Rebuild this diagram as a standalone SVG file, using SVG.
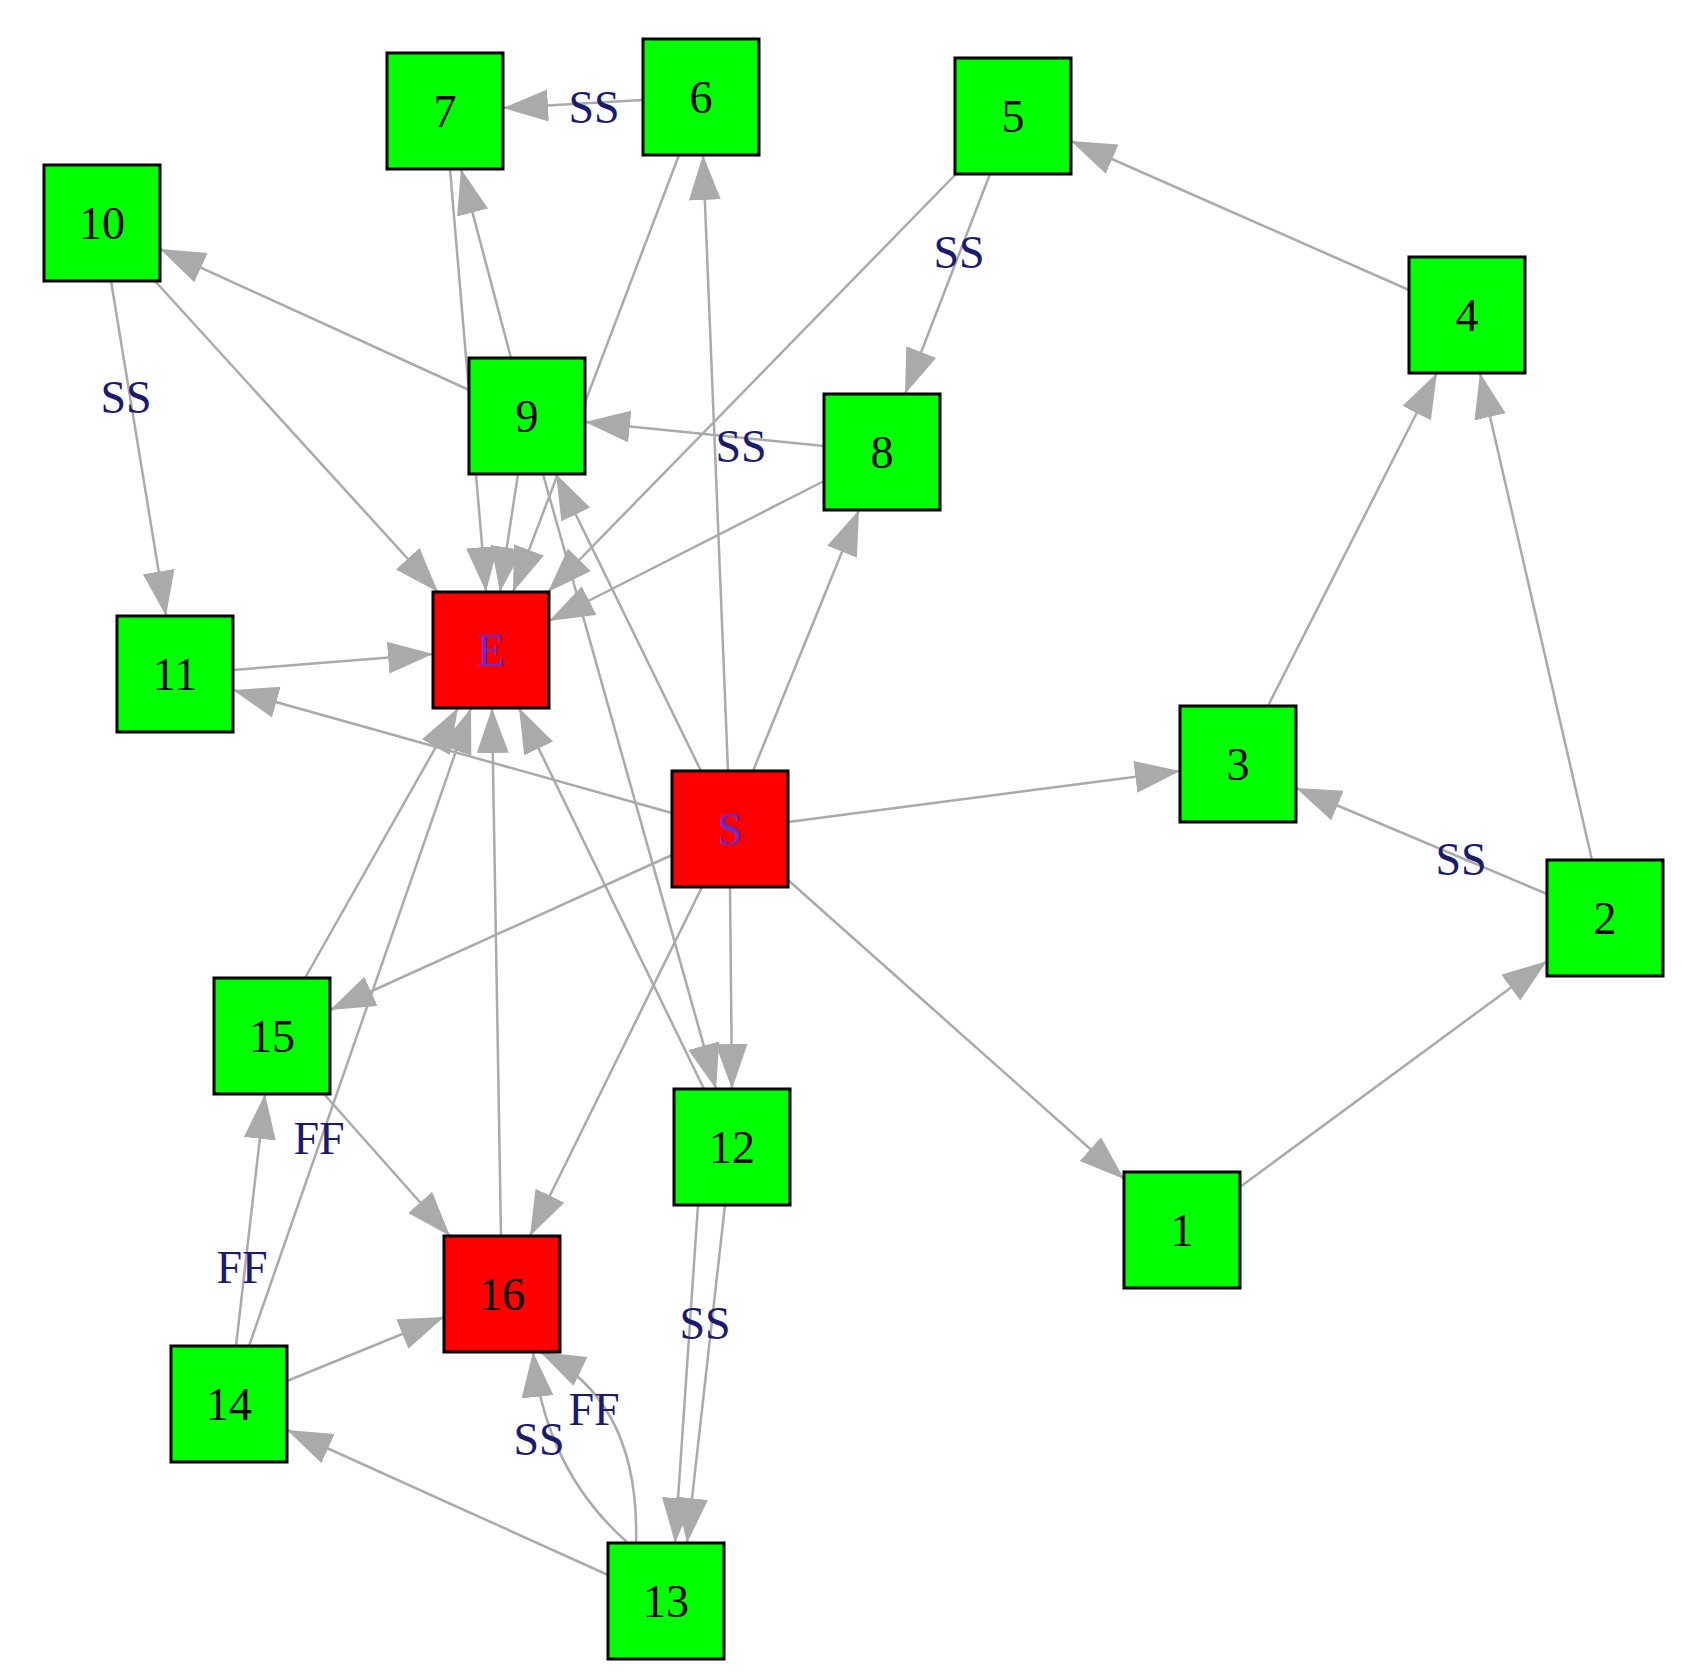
<svg xmlns="http://www.w3.org/2000/svg" width="1682" height="1679" viewBox="0 0 1682 1679">
<style>
.e{stroke:#aaaaaa;stroke-width:2.5;fill:none;marker-end:url(#a)}
.g rect{fill:#00ff00;stroke:#000;stroke-width:3}
.r rect{fill:#ff0000;stroke:#000;stroke-width:3}
.n text{font-family:"Liberation Serif",serif;font-size:46px;text-anchor:middle;dominant-baseline:central;fill:#000}
.r text{fill:#6a2ad0}
.l{font-family:"Liberation Serif",serif;font-size:46px;text-anchor:middle;dominant-baseline:central;fill:#1a1a6e}
</style>
<defs>
<marker id="a" markerUnits="userSpaceOnUse" markerWidth="46" markerHeight="34" refX="45" refY="16" orient="auto">
<path d="M0,0 L45,16 L0,32 z" fill="#aaaaaa"/>
</marker>
</defs>
<rect width="1682" height="1679" fill="#fff"/>
<g id="edges">
<line class="e" x1="643" y1="100" x2="503" y2="108"/>
<line class="e" x1="990" y1="174" x2="905" y2="394"/>
<line class="e" x1="1409" y1="290" x2="1071" y2="141"/>
<line class="e" x1="111" y1="281" x2="166" y2="616"/>
<line class="e" x1="155" y1="281" x2="438" y2="592"/>
<line class="e" x1="469" y1="390" x2="160" y2="249"/>
<line class="e" x1="511" y1="358" x2="461" y2="169"/>
<line class="e" x1="450" y1="169" x2="486" y2="592"/>
<line class="e" x1="679" y1="155" x2="513" y2="592"/>
<line class="e" x1="728" y1="771" x2="703" y2="155"/>
<line class="e" x1="956" y1="174" x2="548" y2="592"/>
<line class="e" x1="824" y1="446" x2="585" y2="422"/>
<line class="e" x1="824" y1="481" x2="549" y2="621"/>
<line class="e" x1="753" y1="771" x2="859" y2="510"/>
<line class="e" x1="518" y1="474" x2="500" y2="592"/>
<line class="e" x1="701" y1="771" x2="556" y2="474"/>
<line class="e" x1="543" y1="474" x2="716" y2="1089"/>
<line class="e" x1="233" y1="670" x2="433" y2="654"/>
<line class="e" x1="672" y1="813" x2="233" y2="690"/>
<line class="e" x1="788" y1="822" x2="1180" y2="771"/>
<line class="e" x1="1268" y1="706" x2="1437" y2="373"/>
<line class="e" x1="1592" y1="860" x2="1480" y2="373"/>
<line class="e" x1="1547" y1="894" x2="1296" y2="788"/>
<line class="e" x1="1240" y1="1187" x2="1547" y2="961"/>
<line class="e" x1="788" y1="880" x2="1124" y2="1179"/>
<line class="e" x1="672" y1="855" x2="330" y2="1010"/>
<line class="e" x1="702" y1="887" x2="530" y2="1236"/>
<line class="e" x1="730" y1="887" x2="732" y2="1089"/>
<line class="e" x1="305" y1="978" x2="458" y2="708"/>
<line class="e" x1="249" y1="1346" x2="471" y2="708"/>
<line class="e" x1="501" y1="1236" x2="492" y2="708"/>
<line class="e" x1="704" y1="1089" x2="519" y2="708"/>
<line class="e" x1="324" y1="1094" x2="450" y2="1236"/>
<line class="e" x1="236" y1="1346" x2="265" y2="1094"/>
<line class="e" x1="287" y1="1381" x2="444" y2="1317"/>
<line class="e" x1="608" y1="1575" x2="287" y2="1430"/>
<line class="e" x1="698" y1="1205" x2="675" y2="1543"/>
<line class="e" x1="725" y1="1205" x2="687" y2="1543"/>
<path class="e" d="M628,1543 Q545,1470 533,1352"/>
<path class="e" d="M636,1543 Q640,1400 540,1352"/>
<text class="l" x="594" y="107">SS</text>
<text class="l" x="959" y="252">SS</text>
<text class="l" x="126" y="397">SS</text>
<text class="l" x="741" y="446">SS</text>
<text class="l" x="1461" y="859">SS</text>
<text class="l" x="319" y="1138">FF</text>
<text class="l" x="242" y="1267">FF</text>
<text class="l" x="705" y="1323">SS</text>
<text class="l" x="539" y="1439">SS</text>
<text class="l" x="594" y="1409">FF</text>
</g>
<g id="n7" class="n g"><rect x="387" y="53" width="116" height="116"/><text x="445" y="111">7</text></g>
<g id="n6" class="n g"><rect x="643" y="39" width="116" height="116"/><text x="701" y="97">6</text></g>
<g id="n5" class="n g"><rect x="955" y="58" width="116" height="116"/><text x="1013" y="116">5</text></g>
<g id="n10" class="n g"><rect x="44" y="165" width="116" height="116"/><text x="102" y="223">10</text></g>
<g id="n4" class="n g"><rect x="1409" y="257" width="116" height="116"/><text x="1467" y="315">4</text></g>
<g id="n9" class="n g"><rect x="469" y="358" width="116" height="116"/><text x="527" y="416">9</text></g>
<g id="n8" class="n g"><rect x="824" y="394" width="116" height="116"/><text x="882" y="452">8</text></g>
<g id="n11" class="n g"><rect x="117" y="616" width="116" height="116"/><text x="175" y="674">11</text></g>
<g id="nE" class="n r"><rect x="433" y="592" width="116" height="116"/><text x="491" y="650">E</text></g>
<g id="n3" class="n g"><rect x="1180" y="706" width="116" height="116"/><text x="1238" y="764">3</text></g>
<g id="nS" class="n r"><rect x="672" y="771" width="116" height="116"/><text x="730" y="829">S</text></g>
<g id="n2" class="n g"><rect x="1547" y="860" width="116" height="116"/><text x="1605" y="918">2</text></g>
<g id="n15" class="n g"><rect x="214" y="978" width="116" height="116"/><text x="272" y="1036">15</text></g>
<g id="n12" class="n g"><rect x="674" y="1089" width="116" height="116"/><text x="732" y="1147">12</text></g>
<g id="n1" class="n g"><rect x="1124" y="1172" width="116" height="116"/><text x="1182" y="1230">1</text></g>
<g id="n16" class="n r"><rect x="444" y="1236" width="116" height="116"/><text x="502" y="1294" fill="#000" style="fill:#000">16</text></g>
<g id="n14" class="n g"><rect x="171" y="1346" width="116" height="116"/><text x="229" y="1404">14</text></g>
<g id="n13" class="n g"><rect x="608" y="1543" width="116" height="116"/><text x="666" y="1601">13</text></g>
</svg>
